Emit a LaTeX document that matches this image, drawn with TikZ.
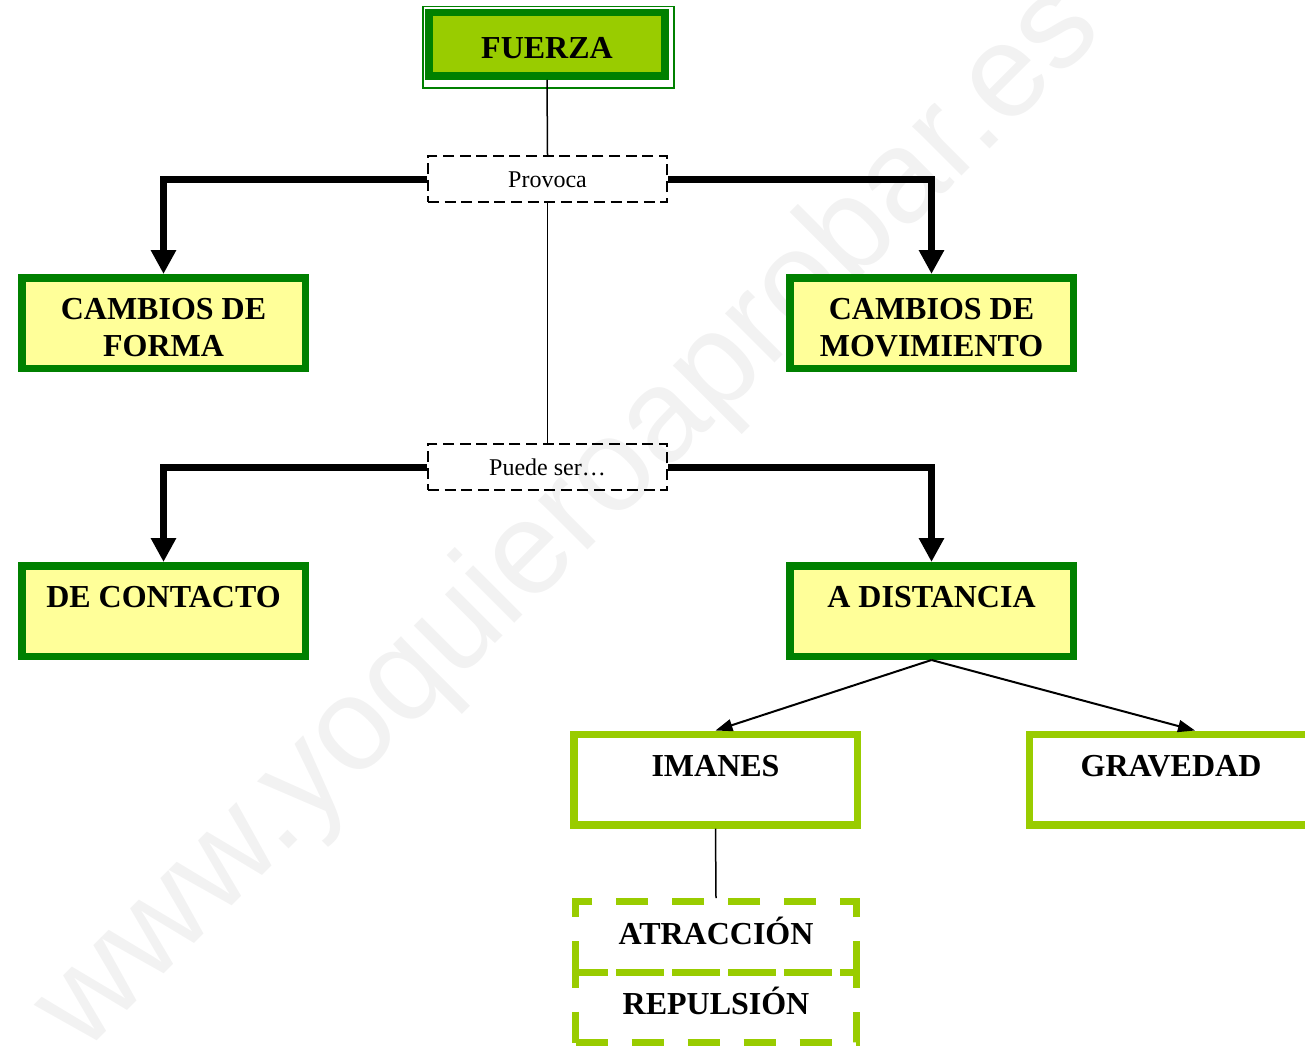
\documentclass[tikz,border=0pt]{standalone}
\usepackage{fontspec}
\setmainfont{Liberation Serif}
\newfontfamily\marcafont{Liberation Sans}
\usetikzlibrary{arrows.meta}
\definecolor{verdeosc}{HTML}{008000}
\definecolor{verdeclaro}{HTML}{99CC00}
\definecolor{amarillo}{HTML}{FFFF99}
\definecolor{marca}{HTML}{F2F2F2}
\newcommand{\alto}{\rule{0pt}{15pt}}

\begin{document}
\begin{tikzpicture}[x=0.5pt, y=-0.5pt, thick]
		\tikzstyle{raiz}=[rectangle, draw=verdeosc, fill=verdeclaro, line width=3.75pt, minimum width=118pt, minimum height=31.75pt, inner sep=0pt, text height=13.8pt, text depth=0pt, font=\bfseries\fontsize{16}{18.5}\selectfont]
		\tikzstyle{concepto}=[rectangle, draw=verdeosc, fill=amarillo, line width=3.75pt, minimum width=141.75pt, minimum height=45.25pt, inner sep=0pt, align=center, font=\bfseries\fontsize{16}{18.5}\selectfont]
		\tikzstyle{tipo}=[concepto, draw=verdeclaro, fill=white]
		\tikzstyle{ejemplo}=[rectangle, draw=verdeclaro, line width=3.5pt, dash pattern=on 16pt off 12pt, minimum width=140.5pt, minimum height=35.25pt, inner sep=0pt, text height=10.8pt, text depth=3.5pt, font=\bfseries\fontsize{16}{18.5}\selectfont]
		\tikzstyle{enlace}=[rectangle, draw, line width=1pt, dash pattern=on 5.5pt off 2.8pt, minimum width=119.5pt, minimum height=23pt, inner sep=0pt, text height=8.4pt, text depth=0pt, font=\fontsize{12}{14}\selectfont]
		\tikzstyle{grueso}=[-{Triangle[width=12pt,length=12pt]}, line width=3.5pt]
		\tikzstyle{fino}=[-{Triangle[width=6pt,length=8.5pt]}, line width=1pt]
		
		\clip (0,0) rectangle (1305,1050);
		
		% Marca de agua
		\node[anchor=base west, rotate=45, inner sep=0pt, text=marca, font=\marcafont\fontsize{66}{66}\selectfont] (marca) at (83,1055) {www.yoquieroaprobar.es};
		
		% Concepto principal
		\node[raiz] (fuerza) at (547,44.25) {FUERZA};
		\draw[verdeosc, line width=0.75pt] ([shift={(-2.5,-2.5)}]fuerza.north west) rectangle ([shift={(5,8)}]fuerza.south east);
		
		% Palabras de enlace
		\node[enlace] (provoca) at (547.5,179) {Provoca};
		\node[enlace] (puede) at (547.5,467) {Puede ser\ldots};
		
		% Efectos
		\node[concepto] (forma) at (163.5,323) {\alto CAMBIOS DE\\FORMA};
		\node[concepto] (movim) at (931.5,323) {\alto CAMBIOS DE\\MOVIMIENTO};
		
		% Tipos de fuerza
		\node[concepto] (contacto) at (163.5,611) {\alto DE CONTACTO\\\phantom{A}};
		\node[concepto] (distancia) at (931.5,611) {\alto A DISTANCIA\\\phantom{A}};
		
		% Fuerzas a distancia
		\node[tipo] (imanes) at (715.5,779.5) {\alto IMANES\\\phantom{A}};
		\node[tipo] (gravedad) at (1171,779.5) {\alto GRAVEDAD\\\phantom{A}};
		
		% Efectos de los imanes
		\node[ejemplo] (atraccion) at (716,936.75) {ATRACCIÓN};
		\node[ejemplo] (repulsion) at (716,1007.25) {REPULSIÓN};
		
		% Conexiones
		\draw[line width=0.75pt] (fuerza.south) -- (provoca.north);
		\draw[line width=0.75pt] (provoca.south) -- (puede.north);
		\draw[grueso] (provoca.west) -| (forma.north);
		\draw[grueso] (provoca.east) -| (movim.north);
		\draw[grueso] (puede.west) -| (contacto.north);
		\draw[grueso] (puede.east) -| (distancia.north);
		\draw[fino] (distancia.south) -- (imanes.north);
		\draw[fino] (distancia.south) -- ([xshift=12pt]gravedad.north);
		\draw[line width=0.75pt] (imanes.south) -- (atraccion.north);
		
	\end{tikzpicture}
\end{document}
